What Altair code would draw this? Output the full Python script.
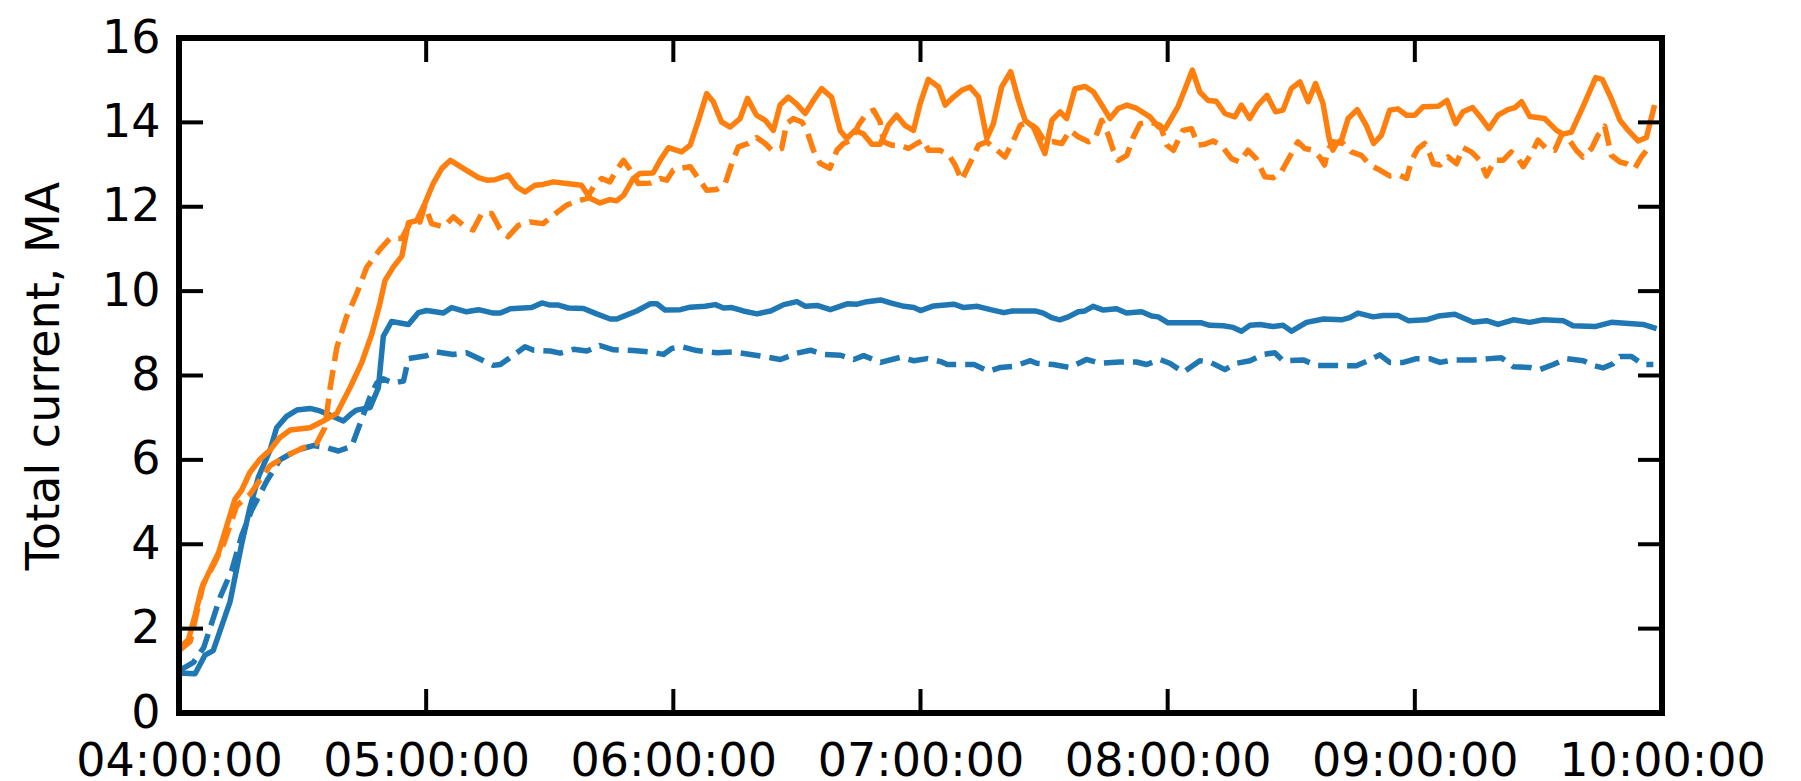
import altair as alt
import pandas as pd

BASE = pd.Timestamp("2000-01-01 04:00:00")

# minutes after 04:00 and total current (MA)
blue_solid_t = [0, 3.9, 6.3, 8.3, 12.4, 15.2, 17.2, 19.3, 22.1, 23.7, 26.1, 28.6, 31.8, 34.2, 36.7, 39.9, 41.9, 43.1,
                46.4, 48.4, 49.6, 51.6, 55.7, 58.1, 60.1, 64.2, 66.2, 69.8, 72.7, 76.3, 78, 80.4, 85.6, 88.1, 90.1,
                92.1, 94.5, 98.2, 101.4, 104.7, 106.3, 108.3, 111.1, 114.4, 116, 118, 121.7, 124.1, 127.7, 130.2,
                132.2, 134.2, 137, 140.3, 143.6, 146.8, 150, 152.1, 154.9, 158.1, 162.2, 164.6, 167, 170.3, 172.7,
                176, 178.4, 180, 183.2, 188.1, 190.5, 193.8, 197, 200.2, 202.3, 204.9, 207.8, 209.8, 211.8, 213.8,
                215.9, 218.3, 219.9, 221.9, 224.4, 227.6, 230, 233.7, 236.1, 237.7, 240.1, 244.2, 248.2, 250.2,
                253.5, 255.9, 257.9, 260, 262.4, 265.6, 268, 270.1, 273.7, 277.8, 282.2, 284.2, 286.2, 289.9,
                292.3, 296, 298.4, 302.8, 305.7, 309.7, 314.2, 317.4, 320.2, 323.9, 327.9, 331.2, 336, 338.4,
                343.7, 347.7, 355.4, 358.7]
blue_solid_v = [0.95, 0.93, 1.37, 1.48, 2.64, 4.0, 4.86, 5.6, 6.23, 6.76, 7.03, 7.18, 7.22, 7.16, 7.06, 6.92, 7.1, 7.18,
                7.24, 7.71, 8.93, 9.28, 9.21, 9.49, 9.54, 9.48, 9.61, 9.51, 9.56, 9.48, 9.48, 9.58, 9.61, 9.72, 9.67,
                9.67, 9.6, 9.59, 9.46, 9.34, 9.34, 9.42, 9.53, 9.7, 9.7, 9.55, 9.56, 9.62, 9.64, 9.68,
                9.6, 9.61, 9.53, 9.46, 9.53, 9.68, 9.75, 9.64, 9.66, 9.56, 9.7, 9.69, 9.75, 9.79, 9.72,
                9.64, 9.61, 9.54, 9.65, 9.69, 9.61, 9.64, 9.56, 9.49, 9.53, 9.53, 9.53, 9.48, 9.37, 9.32,
                9.39, 9.51, 9.53, 9.64, 9.55, 9.58, 9.48, 9.51, 9.41, 9.39, 9.25, 9.25, 9.25, 9.19,
                9.18, 9.14, 9.05, 9.19, 9.21, 9.16, 9.19, 9.05, 9.26, 9.34, 9.32, 9.37, 9.48, 9.39,
                9.42, 9.42, 9.3, 9.32, 9.41, 9.45, 9.26, 9.3, 9.21, 9.32, 9.26, 9.32, 9.3, 9.18,
                9.16, 9.26, 9.21, 9.11]

blue_dashed_t = [0, 3.5, 6, 10, 12.8, 15.2, 17.6, 21.3, 24.5, 28.6, 32.6, 35.8, 38.7, 41.9, 44, 46.4, 48, 49.6, 52,
                 54.5, 55.7, 60.1, 62.5, 66.6, 69.8, 73.9, 76.3, 78, 81.2, 84, 86.1, 90.1, 92.5, 95.8, 99, 102.2,
                 105.5, 110.3, 114.4, 117.6, 119.6, 122.1, 125.7, 130.6, 134.6, 138.7, 142, 146, 150, 153.3, 156.5,
                 160.6, 163.8, 166.2, 170.3, 175.1, 178.4, 181.6, 184.9, 186.5, 193, 196.6, 199.4, 202.7, 206.7,
                 208.2, 212.2, 216.3, 220.3, 223.5, 228.4, 232.4, 234.9, 238.1, 240.5, 243.8, 247.8, 250.2, 253.9,
                 256.7, 260, 263.2, 266, 268, 272.9, 276.1, 280.2, 285.8, 289.1, 291.5, 293.9, 297.2, 300.4,
                 303.6, 306.1, 309.3, 314.2, 318.2, 321, 323.9, 327.9, 330.3, 333.6, 336.8, 340.9, 343.3, 345.7,
                 348.1, 349.8, 352.6, 355.4, 357.9]
blue_dashed_v = [1.0, 1.2, 1.55, 2.75, 3.38, 4.2, 4.8, 5.5, 6.0, 6.23, 6.34, 6.29, 6.21, 6.32, 6.87, 7.5, 7.82, 7.92,
                 7.82, 7.87, 8.4, 8.47, 8.56, 8.5, 8.54, 8.35, 8.24, 8.26, 8.48, 8.68, 8.6, 8.58, 8.53, 8.62, 8.58,
                 8.71, 8.61, 8.59, 8.56, 8.5, 8.64, 8.68, 8.59, 8.54, 8.56, 8.5, 8.45, 8.38, 8.53, 8.6, 8.5,
                 8.48, 8.38, 8.47, 8.31, 8.43, 8.35, 8.4, 8.33, 8.26, 8.26, 8.1, 8.19, 8.22, 8.35,
                 8.29, 8.26, 8.19, 8.38, 8.29, 8.32, 8.32, 8.26, 8.38, 8.29, 8.08, 8.35, 8.32, 8.14,
                 8.29, 8.35, 8.5, 8.54, 8.35, 8.37, 8.24, 8.24, 8.23, 8.37, 8.49, 8.31, 8.31, 8.4,
                 8.4, 8.31, 8.37, 8.37, 8.4, 8.42, 8.21, 8.19, 8.14, 8.26, 8.4, 8.35, 8.24, 8.18,
                 8.28, 8.45, 8.45, 8.26, 8.26]

orange_solid_t = [0, 2.3, 3.9, 5.5, 7.5, 9.6, 11.6, 13.6, 15.2, 17.2, 19.7, 22.1, 24.5, 27, 31.8, 35, 38.3, 41.5,
                  44.3, 46.8, 48.8, 50, 52, 54.1, 55.7, 57.7, 59.7, 61.7, 63.8, 65.9, 69, 72.7, 74.7, 76.7, 79.9,
                  82, 84, 86.4, 88.4, 90.9, 94.1, 97.7, 99.8, 102.2, 104.6, 106.2, 107.9, 110.3, 111.9, 115.1,
                  116.8, 118.8, 122, 124.1, 126.1, 128.1, 129.7, 131.7, 133.8, 136.2, 138, 140.2, 142.3, 144.3,
                  145.9, 147.9, 149.9, 152, 154, 156, 158.4, 160.5, 162.1, 164.1, 166.1, 168.2, 170.2, 172.2,
                  174.2, 176.2, 178.3, 179.9, 181.9, 184.4, 186, 188, 190, 192, 194.1, 196.1, 197.7, 199.7, 201.9,
                  203.8, 205.4, 207.4, 210.2, 211.9, 213.9, 215.5, 217.5, 220, 222, 224, 226, 228, 230.1, 232.5,
                  235.7, 237.8, 239.4, 242.5, 244.1, 246, 247.8, 249.8, 251.8, 253.9, 256.3, 257.9, 259.9, 261.9,
                  264.1, 266.2, 268, 270, 272.1, 274.1, 275.9, 277.7, 279.2, 280.1, 281, 282.2, 283.8, 286, 288.2,
                  290, 291.9, 293.9, 295.9, 298, 300, 302, 305.7, 307.8, 309.9, 311.7, 314, 316.2, 318, 320.2,
                  322.6, 324.3, 325.9, 327.9, 331.5, 334.4, 336, 338, 340.8, 343.9, 345.5, 347.7, 349.8, 351.8,
                  354.2, 356.2, 358.2]
orange_solid_v = [1.53, 1.74, 2.32, 2.96, 3.38, 3.8, 4.44, 5.07, 5.28, 5.7, 6.02, 6.23, 6.53, 6.71, 6.76, 6.92, 7.1, 7.71,
                  8.29, 8.98, 9.72, 10.25, 10.57, 10.83, 11.62, 11.67, 12.08, 12.55, 12.91, 13.1, 12.91, 12.69, 12.63, 12.64, 12.75,
                  12.47, 12.35, 12.51, 12.53, 12.59, 12.55, 12.51, 12.2, 12.09, 12.17, 12.14, 12.27, 12.67, 12.79, 12.8,
                  13.1, 13.4, 13.3, 13.46, 14.05, 14.68, 14.49, 14.01, 13.89, 14.09, 14.57, 14.17, 14.05, 13.81,
                  14.41, 14.6, 14.44, 14.21, 14.52, 14.8, 14.6, 13.81, 13.62, 13.81, 13.73, 13.48, 13.48, 13.93,
                  14.17, 13.93, 13.81, 14.44, 15.02, 14.84, 14.41, 14.6, 14.76, 14.84, 14.6, 13.62, 13.97, 14.84, 15.2,
                  14.52, 14.05, 13.89, 13.26, 14.05, 14.25, 14.09, 14.8, 14.85, 14.72, 14.41, 14.09, 14.33, 14.41, 14.33,
                  14.13, 13.89, 13.85, 14.37, 14.76, 15.24, 14.72, 14.52, 14.5, 14.21, 14.13, 14.41, 14.09, 14.41,
                  14.64, 14.25, 14.29, 14.8, 14.96, 14.49, 14.92, 14.45, 13.62, 13.34, 13.5, 13.58, 14.09, 14.3, 13.93,
                  13.5, 13.7, 14.29, 14.32, 14.17, 14.17, 14.37, 14.38, 14.52, 13.97, 14.25, 14.35, 14.09, 13.85, 14.17,
                  14.3, 14.35, 14.49, 14.14, 14.09, 13.81, 13.72, 13.77, 14.37, 15.06, 15.02, 14.56, 14.05, 13.81,
                  13.56, 13.64, 14.41]

orange_dashed_t = [0, 2.7, 5.9, 8.3, 10.8, 14, 17.2, 22.1, 26.1, 30.2, 33.4, 35.4, 36.7, 38.3, 40.7, 43.1, 45.6, 48.8,
                   51.2, 54.1, 56.1, 58.5, 59.7, 61.3, 64.2, 66.6, 69, 71.4, 73.5, 75.9, 77.9, 79.9, 82.4, 85.2, 88.4,
                   90.9, 94.1, 96.9, 99, 100.6, 102.6, 104.6, 106.2, 107.9, 109.9, 111.5, 114.3, 116.8, 118.4, 120,
                   121.6, 124.1, 126.1, 128.1, 130.5, 132.6, 134.2, 135.8, 138.2, 140.2, 142.3, 143.9, 146.3, 147.5,
                   149.1, 151.2, 152.4, 154, 155.6, 158, 159.7, 161.3, 163.3, 164.9, 166.9, 168.6, 170.2, 171, 173,
                   175, 177.1, 179.1, 180.7, 181.9, 184.8, 187.2, 188.4, 190, 192, 194.1, 196.1, 198.1, 200.5, 202.6,
                   204.2, 206.2, 208.2, 210.2, 212.3, 214.3, 216.3, 218.3, 220.8, 222.4, 224, 225.6, 226.8, 228,
                   230.1, 231.7, 233.3, 235.7, 238.2, 239.8, 241.4, 243.7, 245.8, 247.4, 249, 251, 253, 255.5,
                   257.5, 259.5, 261.5, 263.6, 265.6, 267.6, 269.6, 271.6, 273.3, 275.3, 276.9, 278.1, 278.9, 280.1,
                   282.6, 284.6, 287, 289.1, 291.5, 293.9, 296.3, 298, 299.2, 300.8, 302.4, 303.6, 304.5, 306.1,
                   308.1, 310.1, 311.7, 313.7, 315.8, 317.4, 319.4, 321.4, 323.4, 325.1, 326.3, 328.3, 329.9, 331.9,
                   334, 335.6, 337.2, 339.2, 340.8, 342.9, 344.5, 346.1, 347.7, 349.8, 351.4, 353.4, 355, 356.6]
orange_dashed_v = [1.48, 1.69, 3.06, 3.49, 4.0, 4.91, 5.18, 5.86, 6.1, 6.29, 6.39, 6.76, 7.71, 8.66, 9.4, 9.93, 10.57, 10.99,
                   11.25, 11.25, 11.62, 11.64, 12.04, 11.6, 11.52, 11.76, 11.56, 11.45, 11.84, 11.84, 11.48, 11.29, 11.56, 11.64, 11.6,
                   11.8, 12.04, 12.14, 12.2, 12.47, 12.67, 12.59, 12.87, 13.1, 12.83, 12.55, 12.56, 12.67, 12.63, 12.87,
                   12.91, 12.95, 12.67, 12.39, 12.41, 12.55, 13.03, 13.42, 13.5, 13.64, 13.5, 13.34, 13.38, 13.97,
                   14.09, 14.01, 13.81, 13.34, 13.03, 12.91, 13.34, 13.5, 13.58, 13.93, 14.21, 14.29, 14.01, 13.54, 13.46,
                   13.46, 13.38, 13.5, 13.58, 13.34, 13.34, 13.18, 12.99, 12.63, 13.03, 13.46, 13.54, 13.38, 13.18, 13.58,
                   13.93, 14.01, 13.85, 13.54, 13.54, 13.5, 13.81, 13.66, 13.54, 13.62, 14.05, 13.7, 13.34, 13.1,
                   13.22, 13.66, 13.97, 14.01, 13.93, 13.46, 13.34, 13.81, 13.85, 13.46, 13.48, 13.56, 13.46, 13.14,
                   13.06, 13.34, 13.14, 12.71, 12.69, 12.83, 13.18, 13.54, 13.38, 13.34, 13.18, 12.99, 13.34, 13.54,
                   13.5, 13.3, 13.22, 12.99, 12.87, 12.73, 12.75, 12.67, 13.1, 13.38, 13.5, 13.26, 13.02, 12.99,
                   13.18, 13.02, 13.4, 13.3, 13.1, 12.73, 13.1, 13.1, 13.3, 13.14, 12.95, 13.26, 13.58, 13.38,
                   13.34, 13.7, 13.62, 13.34, 13.18, 13.38, 13.7, 13.91, 13.22, 13.06, 13.02, 12.91, 13.18, 13.38]

x_tick_hours = [4, 5, 6, 7, 8, 9, 10]
y_ticks = [0, 2, 4, 6, 8, 10, 12, 14, 16]
y_title = "Total current, MA"

BLUE = "#1f77b4"
ORANGE = "#ff7f0e"
FONT = "DejaVu Sans"
W, H = 1483, 675
TICK = 24


def frame(t, v):
    return pd.DataFrame({"time": [BASE + pd.Timedelta(minutes=m) for m in t], "value": v})


def dt(h):
    return alt.DateTime(year=2000, month=1, date=1, hours=h)


x_scale = alt.Scale(domain=[dt(x_tick_hours[0]), dt(x_tick_hours[-1])], nice=False)
y_scale = alt.Scale(domain=[y_ticks[0], y_ticks[-1]], nice=False, zero=False)

x_axis = alt.Axis(values=[dt(h) for h in x_tick_hours], format="%H:%M:%S", title=None, ticks=False, tickSize=0,
                  domain=False, grid=False, labelPadding=26, labelFlush=False, labelOverlap=False, labelLimit=0,
                  labelFontSize=46, labelFont=FONT, labelColor="black")
y_axis = alt.Axis(values=y_ticks, title=y_title, ticks=False, tickSize=0, domain=False, grid=False,
                  labelPadding=19, labelFontSize=46, labelFont=FONT, labelColor="black", labelOverlap=False,
                  labelLimit=0, titleLimit=0,
                  titleFontSize=46, titleFont=FONT, titleColor="black", titleFontWeight="normal",
                  titleAngle=270, titleX=-121, titleY=H / 2, titleAlign="center", titleBaseline="alphabetic")

X = alt.X("time:T", scale=x_scale, axis=x_axis)


def line(t, v, color, dashed):
    mk = dict(color=color, strokeWidth=5.5, strokeJoin="round")
    if dashed:
        mk["strokeDash"] = [20, 9]
    return alt.Chart(frame(t, v)).mark_line(**mk).encode(
        x=X,
        y=alt.Y("value:Q", scale=y_scale, axis=y_axis),
    )


layers = [
    line(blue_solid_t, blue_solid_v, BLUE, False),
    line(orange_solid_t, orange_solid_v, ORANGE, False),
    line(blue_dashed_t, blue_dashed_v, BLUE, True),
    line(orange_dashed_t, orange_dashed_v, ORANGE, True),
]

ydf = pd.DataFrame({"value": y_ticks[1:-1]})
xdf = pd.DataFrame({"time": [BASE + pd.Timedelta(hours=h - 4) for h in x_tick_hours[1:-1]]})
rule = dict(color="black", strokeWidth=4)
Yt = alt.Y("value:Q", scale=y_scale, axis=y_axis)
layers += [
    alt.Chart(ydf).mark_rule(**rule).encode(y=Yt, x=alt.value(0), x2=alt.value(TICK)),
    alt.Chart(ydf).mark_rule(**rule).encode(y=Yt, x=alt.value(W - TICK), x2=alt.value(W)),
    alt.Chart(xdf).mark_rule(**rule).encode(x=X, y=alt.value(H - TICK), y2=alt.value(H)),
    alt.Chart(xdf).mark_rule(**rule).encode(x=X, y=alt.value(0), y2=alt.value(TICK)),
    alt.Chart(pd.DataFrame({"a": [0]})).mark_rect(fill=None, fillOpacity=0, stroke="black", strokeWidth=6).encode(
        x=alt.value(0), x2=alt.value(W), y=alt.value(0), y2=alt.value(H)),
]

chart = alt.layer(*layers).properties(
    width=W, height=H,
    autosize=alt.AutoSizeParams(type="none"),
    padding={"left": 171, "top": 30, "right": 120, "bottom": 68},
).configure_view(stroke=None)

chart.save("out.html", embed_options={"renderer": "svg", "actions": False})
